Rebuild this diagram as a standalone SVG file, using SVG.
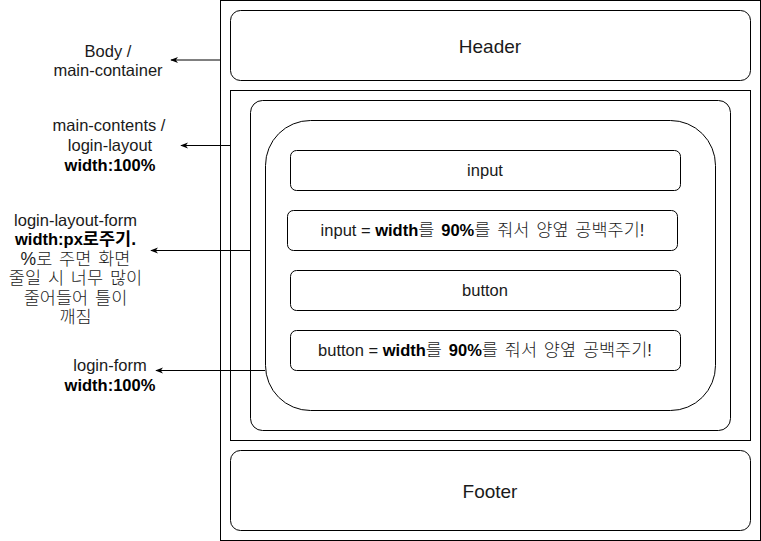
<svg xmlns="http://www.w3.org/2000/svg" width="761" height="541" viewBox="0 0 761 541">
<defs>
<style>
.box{fill:#fff;stroke:#000;stroke-width:1}
.t{font-family:"Liberation Sans","Noto Sans CJK KR",Arial,sans-serif;font-size:16.5px;fill:#1a1a1a;text-anchor:middle}
.big{font-size:19px}
.k{font-size:17.5px;word-spacing:2px;font-weight:300}
.b{font-weight:bold;fill:#000}
.conn{stroke:#000;stroke-width:1;fill:none;marker-end:url(#ah)}
</style>
<marker id="ah" viewBox="0 0 10 10" refX="9" refY="5" markerWidth="8" markerHeight="8" orient="auto" markerUnits="userSpaceOnUse">
<path d="M0,1 L10,5 L0,9 L3,5 Z" fill="#000"/>
</marker>
</defs>
<rect width="761" height="541" fill="#fff"/>
<g id="body"><rect class="box" x="220.5" y="0.5" width="540" height="540"/></g>
<g id="header"><rect class="box" x="230.5" y="10.5" width="520" height="70" rx="10"/><text class="t big" x="490" y="53">Header</text></g>
<g id="main-contents"><rect class="box" x="230.5" y="90.5" width="520" height="350"/></g>
<g id="login-layout"><rect class="box" x="250.5" y="100.5" width="480" height="330" rx="12"/></g>
<g id="login-form"><rect class="box" x="265.5" y="120.5" width="450" height="290" rx="45"/></g>
<g id="input"><rect class="box" x="290.5" y="150.5" width="390" height="40" rx="6"/><text class="t" x="485" y="176">input</text></g>
<g id="input-note"><rect class="box" x="287.5" y="210.5" width="390" height="40" rx="6"/><text class="t" x="482.5" y="236">input = <tspan class="b">width</tspan><tspan class="k">를 </tspan><tspan class="b">90%</tspan><tspan class="k">를 줘서 양옆 공백주기</tspan>!</text></g>
<g id="button"><rect class="box" x="290.5" y="270.5" width="390" height="40" rx="6"/><text class="t" x="485" y="296">button</text></g>
<g id="button-note"><rect class="box" x="290.5" y="330.5" width="390" height="40" rx="6"/><text class="t" x="485" y="356">button = <tspan class="b">width</tspan><tspan class="k">를 </tspan><tspan class="b">90%</tspan><tspan class="k">를 줘서 양옆 공백주기</tspan>!</text></g>
<g id="footer"><rect class="box" x="230.5" y="450.5" width="520" height="80" rx="10"/><text class="t big" x="490" y="498">Footer</text></g>
<g id="label-body"><text class="t" x="108" y="57">Body /</text><text class="t" x="108" y="76">main-container</text></g>
<g id="label-main"><text class="t" x="109" y="131">main-contents /</text><text class="t" x="110" y="150.5">login-layout</text><text class="t b" x="110" y="170.5">width:100%</text></g>
<g id="label-layout-form"><text class="t" x="75.5" y="225.5">login-layout-form</text><text class="t" x="75.5" y="245"><tspan class="b">width:px</tspan><tspan class="k b">로주기.</tspan></text><text class="t k" x="75.5" y="264.5">%로 주면 화면</text><text class="t k" x="75.5" y="284">줄일 시 너무 많이</text><text class="t k" x="75.5" y="303.5">줄어들어 틀이</text><text class="t k" x="75.5" y="323">깨짐</text></g>
<g id="label-login-form"><text class="t" x="110" y="370.5">login-form</text><text class="t b" x="110" y="390.5">width:100%</text></g>
<g id="connectors">
<line class="conn" x1="220" y1="60" x2="171" y2="60"/>
<line class="conn" x1="230" y1="145.5" x2="181" y2="145.5"/>
<line class="conn" x1="250" y1="250.5" x2="151" y2="250.5"/>
<line class="conn" x1="265" y1="370.5" x2="156" y2="370.5"/>
</g>
</svg>
